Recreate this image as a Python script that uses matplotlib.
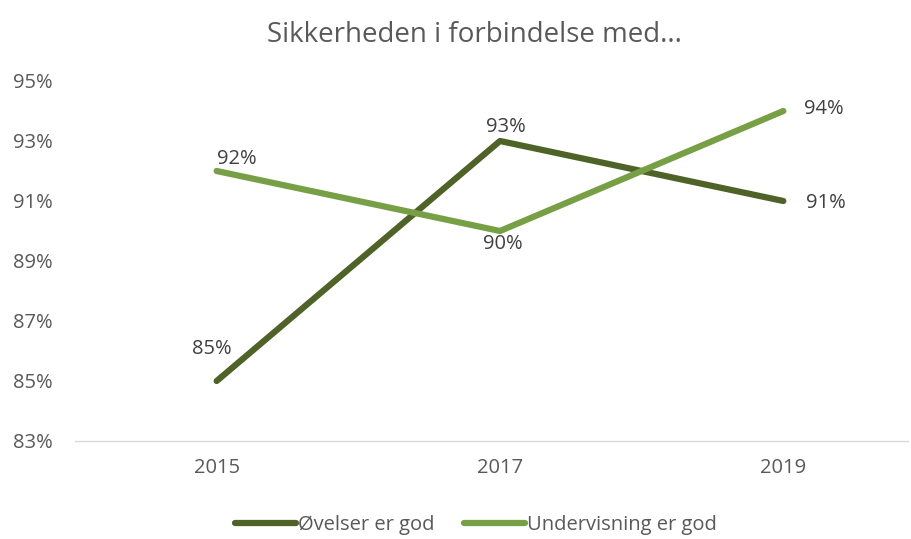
import matplotlib
matplotlib.use("Agg")
import matplotlib.pyplot as plt

years = ["2015", "2017", "2019"]
ovelser = [85, 93, 91]
undervisning = [92, 90, 94]
yticks = [83, 85, 87, 89, 91, 93, 95]
title = "Sikkerheden i forbindelse med..."
names = ["Øvelser er god", "Undervisning er god"]

plt.rcParams['font.family'] = ['Open Sans', 'DejaVu Sans']
grey = '#595959'
dark = '#4F6228'
light = '#77A046'

fig = plt.figure(figsize=(9.12, 5.39), dpi=100)
ax = fig.add_axes([75/912, 1-441/539, (908-75)/912, (441-81)/539])
x = list(range(len(years)))
ax.plot(x, ovelser, color=dark, lw=4.5, solid_capstyle='round', label=names[0])
ax.plot(x, undervisning, color=light, lw=4.5, solid_capstyle='round', label=names[1])

ax.set_ylim(83, 95)
ax.set_xlim(-0.5, 2.44)
ax.set_yticks(yticks)
ax.set_yticklabels([f"{v}%" for v in yticks])
ax.set_xticks(x)
ax.set_xticklabels(years)
ax.tick_params(length=0, labelsize=14.5, colors=grey, pad=12)
ax.tick_params(axis='y', pad=45)
for lab in ax.get_yticklabels():
    lab.set_horizontalalignment('left')
for s in ['top', 'right', 'left']:
    ax.spines[s].set_visible(False)
ax.spines['bottom'].set_color('#D9D9D9')
ax.spines['bottom'].set_linewidth(1)

# data labels
offs_o = [(-5, 32), (6, 14), (43, -2)]
offs_u = [(20, 12), (3, -13), (40, 2)]
for i, v in enumerate(ovelser):
    ax.annotate(f"{v}%", (x[i], v), xytext=offs_o[i], textcoords='offset pixels',
                ha='center', va='center', fontsize=14.5, color='#404040')
for i, v in enumerate(undervisning):
    ax.annotate(f"{v}%", (x[i], v), xytext=offs_u[i], textcoords='offset pixels',
                ha='center', va='center', fontsize=14.5, color='#404040')

fig.text(474/912, 1-35/539, title, ha='center', va='center', fontsize=20, color=grey)
fig.legend(loc='center', bbox_to_anchor=(476/912, 1-525/539), ncol=2, frameon=False,
           fontsize=14.5, labelcolor=grey, handlelength=3.0, handletextpad=0.1,
           columnspacing=1.5)
fig.savefig("out.png", dpi=100)
